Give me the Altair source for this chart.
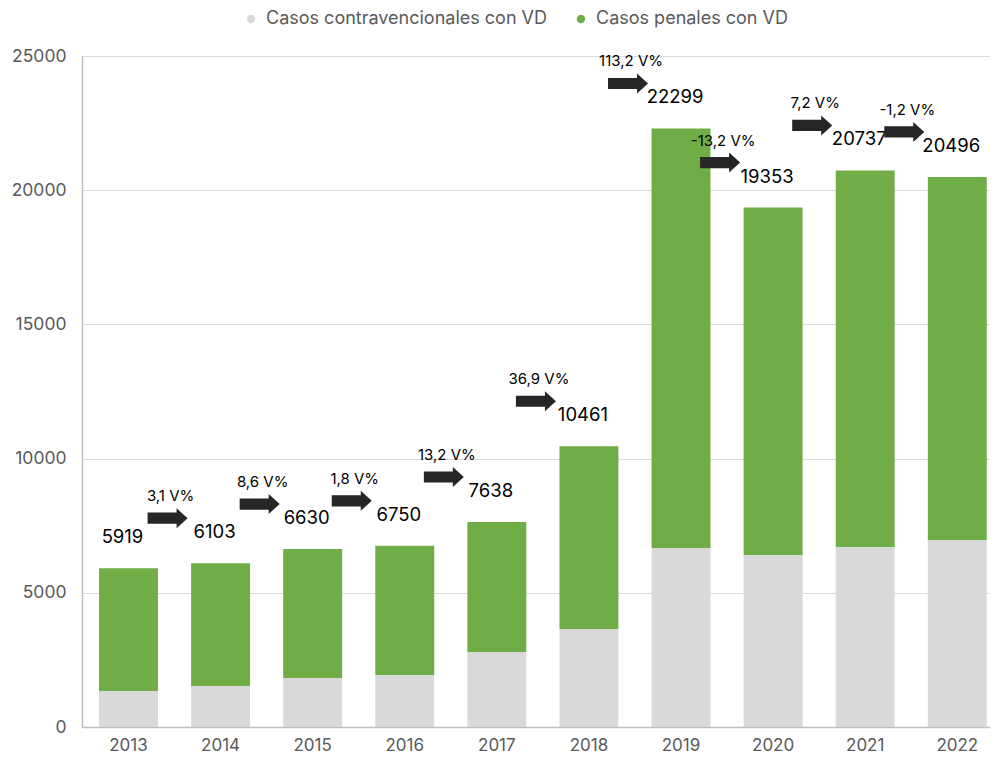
import altair as alt
import pandas as pd

years = ["2013", "2014", "2015", "2016", "2017", "2018", "2019", "2020", "2021", "2022"]
totals = [5919, 6103, 6630, 6750, 7638, 10461, 22299, 19353, 20737, 20496]
contra = [1340, 1530, 1830, 1940, 2790, 3650, 6670, 6410, 6710, 6970]
pct_labels = ["3,1 V%", "8,6 V%", "1,8 V%", "13,2 V%", "36,9 V%", "113,2 V%", "-13,2 V%", "7,2 V%", "-1,2 V%"]

S_CONTRA = "Casos contravencionales con VD"
S_PENAL = "Casos penales con VD"

rows = []
for y, t, c in zip(years, totals, contra):
    rows.append({"year": y, "serie": S_CONTRA, "value": c, "ord": 0})
    rows.append({"year": y, "serie": S_PENAL, "value": t - c, "ord": 1})
df = pd.DataFrame(rows)

tot_df = pd.DataFrame({"year": years, "total": totals})
arr_df = pd.DataFrame({"year": years[1:], "total": totals[1:], "pct": pct_labels})

FONT = "Inter"
W, H = 908, 671

xenc = alt.X("year:N", title=None,
             scale=alt.Scale(paddingInner=0.36, paddingOuter=0.11, align=0.84),
             axis=alt.Axis(labelAngle=0, labelFontSize=17, labelColor="#595959",
                           labelFont=FONT, ticks=False, labelPadding=10,
                           domainColor="#bfbfbf", domainWidth=1.5))
yscale = alt.Scale(domain=[0, 25000])

bars = alt.Chart(df).mark_bar().encode(
    x=xenc,
    y=alt.Y("value:Q", stack="zero", scale=yscale, title=None,
            axis=alt.Axis(values=[0, 5000, 10000, 15000, 20000, 25000], format="d",
                          labelFontSize=17.5, labelColor="#595959", labelFont=FONT,
                          ticks=False, labelPadding=16, gridColor="#d9d9d9",
                          domainColor="#bfbfbf", domainWidth=1.5)),
    color=alt.Color("serie:N",
                    scale=alt.Scale(domain=[S_CONTRA, S_PENAL], range=["#d9d9d9", "#70ad47"]),
                    legend=alt.Legend(title=None, orient="none", direction="horizontal",
                                      legendX=160, legendY=-46, symbolType="circle",
                                      symbolSize=70, labelFontSize=18, labelColor="#595959",
                                      labelFont=FONT, columnPadding=24, labelLimit=0,
                                      symbolStrokeWidth=0, labelOffset=6)),
    order=alt.Order("ord:Q"),
)

tot_text = alt.Chart(tot_df).mark_text(fontSize=18.5, font=FONT, color="#000000",
                                       dx=-6, dy=-31).encode(
    x=alt.X("year:N"),
    y=alt.Y("total:Q", scale=yscale),
    text=alt.Text("total:Q", format="d"),
)

arrow_path = "M-1,-0.28 L0.45,-0.28 L0.45,-0.5 L1,0 L0.45,0.5 L0.45,0.28 L-1,0.28 Z"
arrows = alt.Chart(arr_df).mark_point(shape=arrow_path, filled=True, size=1600,
                                      color="#262626", opacity=1, strokeWidth=0,
                                      xOffset=-53, yOffset=-45).encode(
    x=alt.X("year:N"),
    y=alt.Y("total:Q", scale=yscale),
)

pct_text = alt.Chart(arr_df).mark_text(fontSize=15, font=FONT, color="#000000",
                                       xOffset=-50, yOffset=-67).encode(
    x=alt.X("year:N"),
    y=alt.Y("total:Q", scale=yscale),
    text="pct:N",
)

chart = alt.layer(bars, tot_text, arrows, pct_text).properties(
    width=W, height=H,
    autosize=alt.AutoSizeParams(type="none"),
    padding={"left": 74, "top": 48, "right": 0, "bottom": 27},
).configure_view(stroke=None).configure(background="white")

chart.save("out.html", embed_options={"renderer": "svg", "actions": False})
